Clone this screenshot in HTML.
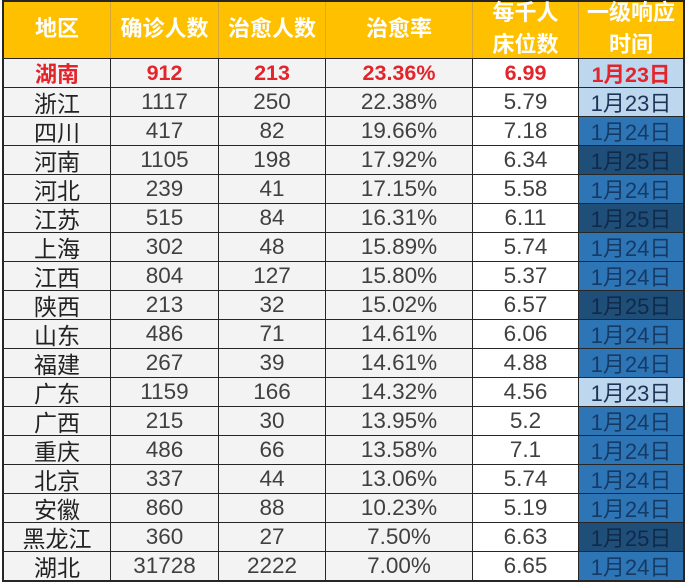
<!DOCTYPE html>
<html><head><meta charset="utf-8">
<style>
html,body{margin:0;padding:0;background:#fff;}
body{width:693px;height:588px;position:relative;overflow:hidden;font-family:"Liberation Sans","Noto Sans CJK SC",sans-serif;}
.g{position:absolute;left:2px;top:0;padding:2px;background:#262626;display:grid;
grid-template-columns:106px 107px 106px 146px 105px 104px;
grid-template-rows:56px repeat(18,28px);gap:1px;}
.g>div{background:#f3f3f4;color:#404040;font-size:22.5px;display:flex;align-items:center;justify-content:center;white-space:nowrap;overflow:hidden;}
.g>div.c1{font-size:23px;color:#222;}
.g>div.c5{background:#fff;}
.g>div.hd{grid-column:1/-1;background:#FFC000;padding:0;display:flex;align-items:stretch;justify-content:flex-start;overflow:visible;}
.hd>span{display:flex;align-items:center;justify-content:center;text-align:center;color:#fff;font-weight:bold;font-size:22px;line-height:32px;border-right:1px solid #d4a63a;box-sizing:content-box;}
.hd>span:last-child{border-right:none;}
.hd>span>i{font-style:normal;position:relative;top:-1px;}
.g>div.r{color:#e3242b;font-weight:bold;font-size:21.5px;}
.g>div.c1.r{font-size:22px;}
.g>div.b23{background:#bdd7ee;color:#1f3356;font-size:22px;}
.g>div.b24{background:#2e75b6;color:#163a66;font-size:22px;}
.g>div.b25{background:#1f4e79;color:#0f2a4a;font-size:22px;}
.g>div.b23.r{color:#e3242b;font-size:21.5px;}
</style></head><body>
<div class="g">
<div class="hd"><span style="width:106px"><i>地区</i></span><span style="width:107px"><i>确诊人数</i></span><span style="width:106px"><i>治愈人数</i></span><span style="width:146px"><i>治愈率</i></span><span style="width:105px"><i>每千人<br>床位数</i></span><span style="width:104px"><i>一级响应<br>时间</i></span></div>
<div class="c1 r">湖南</div><div class="r">912</div><div class="r">213</div><div class="r">23.36%</div><div class="c5 r">6.99</div><div class="b23 r">1月23日</div>
<div class="c1">浙江</div><div>1117</div><div>250</div><div>22.38%</div><div class="c5">5.79</div><div class="b23">1月23日</div>
<div class="c1">四川</div><div>417</div><div>82</div><div>19.66%</div><div class="c5">7.18</div><div class="b24">1月24日</div>
<div class="c1">河南</div><div>1105</div><div>198</div><div>17.92%</div><div class="c5">6.34</div><div class="b25">1月25日</div>
<div class="c1">河北</div><div>239</div><div>41</div><div>17.15%</div><div class="c5">5.58</div><div class="b24">1月24日</div>
<div class="c1">江苏</div><div>515</div><div>84</div><div>16.31%</div><div class="c5">6.11</div><div class="b25">1月25日</div>
<div class="c1">上海</div><div>302</div><div>48</div><div>15.89%</div><div class="c5">5.74</div><div class="b24">1月24日</div>
<div class="c1">江西</div><div>804</div><div>127</div><div>15.80%</div><div class="c5">5.37</div><div class="b24">1月24日</div>
<div class="c1">陕西</div><div>213</div><div>32</div><div>15.02%</div><div class="c5">6.57</div><div class="b25">1月25日</div>
<div class="c1">山东</div><div>486</div><div>71</div><div>14.61%</div><div class="c5">6.06</div><div class="b24">1月24日</div>
<div class="c1">福建</div><div>267</div><div>39</div><div>14.61%</div><div class="c5">4.88</div><div class="b24">1月24日</div>
<div class="c1">广东</div><div>1159</div><div>166</div><div>14.32%</div><div class="c5">4.56</div><div class="b23">1月23日</div>
<div class="c1">广西</div><div>215</div><div>30</div><div>13.95%</div><div class="c5">5.2</div><div class="b24">1月24日</div>
<div class="c1">重庆</div><div>486</div><div>66</div><div>13.58%</div><div class="c5">7.1</div><div class="b24">1月24日</div>
<div class="c1">北京</div><div>337</div><div>44</div><div>13.06%</div><div class="c5">5.74</div><div class="b24">1月24日</div>
<div class="c1">安徽</div><div>860</div><div>88</div><div>10.23%</div><div class="c5">5.19</div><div class="b24">1月24日</div>
<div class="c1">黑龙江</div><div>360</div><div>27</div><div>7.50%</div><div class="c5">6.63</div><div class="b25">1月25日</div>
<div class="c1">湖北</div><div>31728</div><div>2222</div><div>7.00%</div><div class="c5">6.65</div><div class="b24">1月24日</div>
</div>
</body></html>
